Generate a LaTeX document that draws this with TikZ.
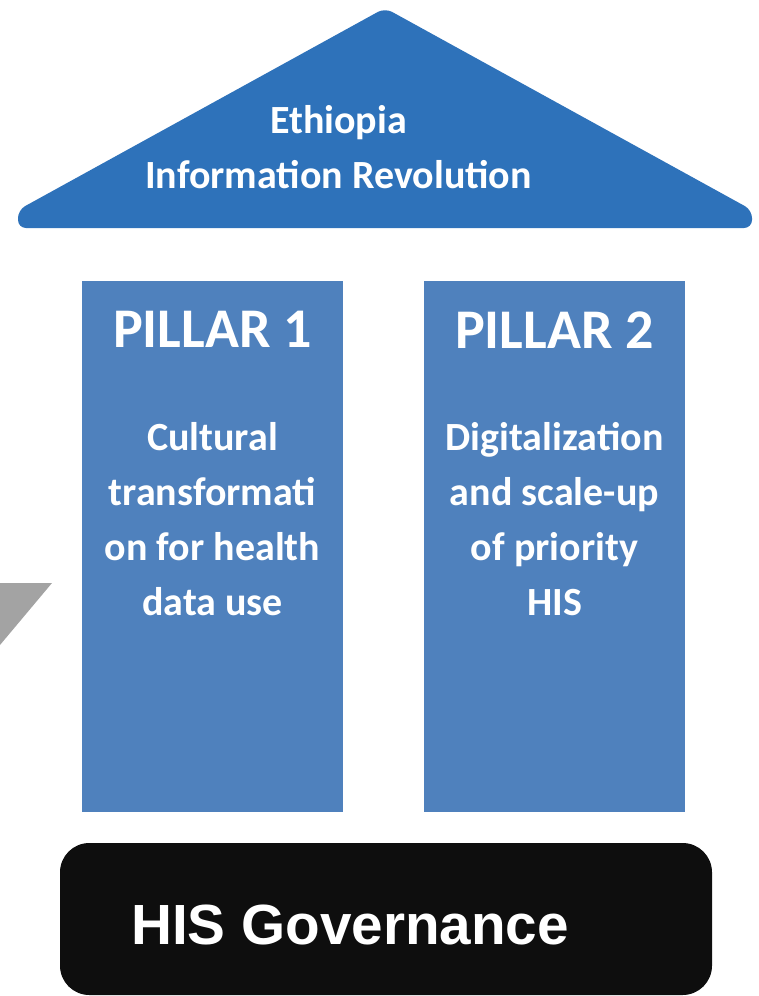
\documentclass[tikz,border=0pt]{standalone}
\usepackage{fontspec}
\setmainfont{Carlito}
\newfontfamily\arialfont{Liberation Sans}
\usetikzlibrary{positioning}
\definecolor{roofblue}{HTML}{2E72BA}
\definecolor{pillarblue}{HTML}{4F81BD}
\definecolor{arrowgray}{HTML}{A3A3A3}
\definecolor{baseblack}{HTML}{0E0E0E}
\tikzset{
  PillarStyle/.style = { fill = pillarblue, minimum width = 195.75pt, minimum height = 398.25pt, inner sep = 0pt },
  TitleStyle/.style = { text = white, font = \bfseries\fontsize{42}{50}\selectfont },
  BodyStyle/.style = { text = white, align = center, font = \bfseries\fontsize{30}{41.25}\selectfont },
  RoofText/.style = { text = white, align = center, font = \bfseries\fontsize{30}{41.25}\selectfont },
  BaseStyle/.style = { fill = baseblack, rounded corners = 22pt, minimum width = 489pt, minimum height = 114pt } }

\begin{document}
\begin{tikzpicture}[x=0.75pt, y=-0.75pt]
  \useasboundingbox (0,0) rectangle (759,996);
  % roof
  \fill[roofblue, rounded corners=6] (18,228) -- (18,210) -- (385,8) -- (752,210) -- (752,228) -- cycle;
  \node[RoofText] (roof) at (338.5,147.5) {Ethiopia\\Information Revolution};
  % gray arrow piece
  \fill[arrowgray] (0,583) -- (52,583) -- (0,645) -- cycle;
  % pillars
  \node[PillarStyle] (pillar1) at (212.5,546.5) {};
  \node[PillarStyle] (pillar2) at (554.5,546.5) {};
  \node[TitleStyle] (title1) at ([yshift=-36.75pt]pillar1.north) {PILLAR 1};
  \node[TitleStyle] (title2) at ([yshift=-36.75pt]pillar2.north) {PILLAR 2};
  \node[BodyStyle] (body1) at (212.5,519.5) {Cultural\\transformati\\on for health\\data use};
  \node[BodyStyle] (body2) at (554.5,519.5) {Digitalization\\and scale-up\\of priority\\HIS};
  % base
  \node[BaseStyle] (gov) at (386,919) {};
  \node[text=white, anchor=west, inner sep=0pt, font=\arialfont\bfseries\fontsize{42.5}{50}\selectfont] (govtext) at (131,925) {HIS Governance};
\end{tikzpicture}
\end{document}
